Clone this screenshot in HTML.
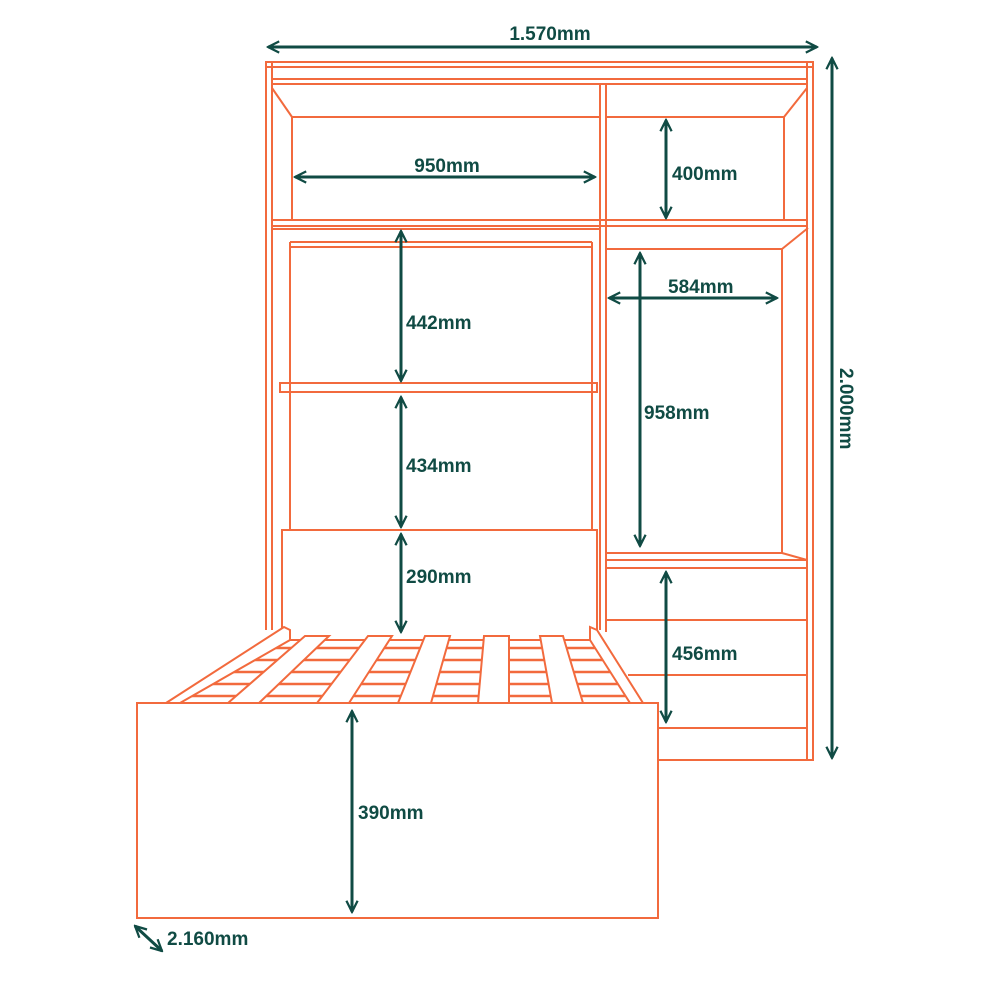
<!DOCTYPE html>
<html><head><meta charset="utf-8"><style>
html,body{margin:0;padding:0;background:#fff}
svg{display:block}
text{font-family:"Liberation Sans",sans-serif;font-weight:bold;fill:#104b44;font-size:19px}
</style></head><body>
<svg width="1000" height="1000" viewBox="0 0 1000 1000">
<defs>
<marker id="a" viewBox="0 0 10 10" refX="9" refY="5" markerWidth="14" markerHeight="14" markerUnits="userSpaceOnUse" orient="auto-start-reverse">
<path d="M1,1 L9,5 L1,9" fill="none" stroke="#104b44" stroke-width="1.6"/>
</marker>
<clipPath id="bc"><polygon points="172,703 287,630 593,630 638,703"/></clipPath>
</defs>
<g fill="none" stroke="#f26a3d" stroke-width="2">
<!-- outer cabinet -->
<path d="M266,630 L266,62 L813,62 L813,760 L658,760"/>
<line x1="272" y1="62" x2="272" y2="630"/>
<line x1="807" y1="62" x2="807" y2="760"/>
<line x1="266" y1="67" x2="813" y2="67"/>
<line x1="272" y1="79" x2="807" y2="79"/>
<line x1="272" y1="84" x2="807" y2="84"/>
<!-- divider -->
<line x1="600" y1="84" x2="600" y2="630"/>
<line x1="606" y1="84" x2="606" y2="632"/>
<line x1="606" y1="703" x2="606" y2="760"/>
<!-- top section -->
<line x1="272" y1="88" x2="292" y2="117"/>
<line x1="292" y1="117" x2="600" y2="117"/>
<line x1="292" y1="117" x2="292" y2="220"/>
<line x1="606" y1="117" x2="784" y2="117"/>
<line x1="807" y1="88" x2="784" y2="117"/>
<line x1="784" y1="117" x2="784" y2="220"/>
<!-- shelf -->
<line x1="272" y1="220" x2="807" y2="220"/>
<line x1="272" y1="226" x2="807" y2="226"/>
<!-- left middle -->
<line x1="272" y1="229" x2="600" y2="229"/>
<line x1="290" y1="242" x2="592" y2="242"/>
<line x1="290" y1="247" x2="592" y2="247"/>
<line x1="290" y1="242" x2="290" y2="530"/>
<line x1="592" y1="242" x2="592" y2="530"/>
<rect x="280" y="383" width="317" height="9"/>
<!-- right column -->
<line x1="606" y1="249" x2="782" y2="249"/>
<line x1="782" y1="249" x2="808" y2="228"/>
<line x1="782" y1="249" x2="782" y2="553"/>
<line x1="606" y1="553" x2="782" y2="553"/>
<line x1="782" y1="553" x2="807" y2="560"/>
<line x1="606" y1="560" x2="807" y2="560"/>
<!-- drawers -->
<line x1="606" y1="568" x2="807" y2="568"/>
<line x1="606" y1="620" x2="807" y2="620"/>
<line x1="628" y1="675" x2="807" y2="675"/>
<line x1="658" y1="728" x2="807" y2="728"/>
<!-- headboard -->
<rect x="282" y="530" width="315" height="110" fill="#fff"/>
<!-- cross rails -->
<g stroke-width="2.5" clip-path="url(#bc)">
<line x1="150" y1="648" x2="660" y2="648"/>
<line x1="150" y1="660" x2="660" y2="660"/>
<line x1="150" y1="672" x2="660" y2="672"/>
<line x1="150" y1="684" x2="660" y2="684"/>
<line x1="150" y1="696" x2="660" y2="696"/>
</g>
<g fill="#fff">
<polygon points="166,703 284,627 290,630 290,640 180,703"/>
<polygon points="590,627 597,630 643,703 630,703 590,640"/>
<polygon points="305,636 329,636 259,703 228,703"/>
<polygon points="368,636 392,636 349,703 317,703"/>
<polygon points="425,636 450,636 431,703 398,703"/>
<polygon points="484,636 509,636 509,703 478,703"/>
<polygon points="540,636 563,636 583,703 552,703"/>
<rect x="137" y="703" width="521" height="215"/>
</g>
</g>
<g stroke="#104b44" stroke-width="3" marker-start="url(#a)" marker-end="url(#a)">
<line x1="268" y1="47" x2="817" y2="47"/>
<line x1="832" y1="58" x2="832" y2="758"/>
<line x1="295" y1="177" x2="595" y2="177"/>
<line x1="666" y1="120" x2="666" y2="218"/>
<line x1="401" y1="231" x2="401" y2="381"/>
<line x1="401" y1="397" x2="401" y2="527"/>
<line x1="401" y1="534" x2="401" y2="632"/>
<line x1="609" y1="298" x2="777" y2="298"/>
<line x1="640" y1="253" x2="640" y2="546"/>
<line x1="666" y1="572" x2="666" y2="722"/>
<line x1="352" y1="711" x2="352" y2="912"/>
<line x1="135" y1="926" x2="162" y2="951"/>
</g>
<text x="550" y="40" text-anchor="middle">1.570mm</text>
<text transform="translate(840,368) rotate(90)">2.000mm</text>
<text x="447" y="172" text-anchor="middle">950mm</text>
<text x="672" y="180">400mm</text>
<text x="406" y="329">442mm</text>
<text x="406" y="472">434mm</text>
<text x="406" y="583">290mm</text>
<text x="668" y="293">584mm</text>
<text x="644" y="419">958mm</text>
<text x="672" y="660">456mm</text>
<text x="358" y="819">390mm</text>
<text x="167" y="945">2.160mm</text>
</svg>
</body></html>
